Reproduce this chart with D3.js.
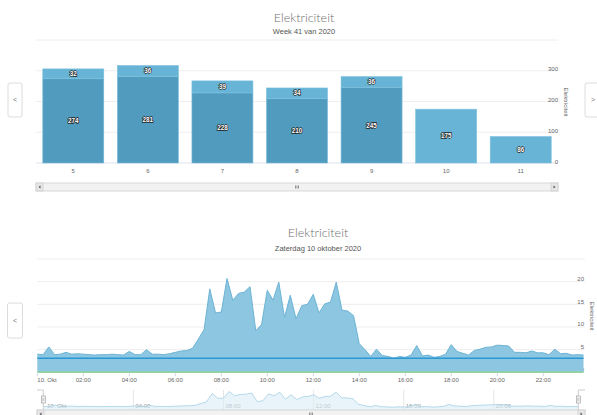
<!DOCTYPE html>
<html>
<head>
<meta charset="utf-8">
<script src="https://cdn.jsdelivr.net/npm/d3@7"></script>
<style>
  body { margin: 0; background: #fff; }
  svg { display: block; }
  text { font-family: "Liberation Sans", Arial, sans-serif; }
  .title { font-family: Lato, "Open Sans", sans-serif; font-weight: 300; fill: #707070; }
</style>
</head>
<body>
<svg id="chart" width="597" height="415"></svg>
<script>
// week chart: days of week 41
var weekDays = ['5', '6', '7', '8', '9', '10', '11'];
var weekLow = [274, 281, 228, 210, 245, 0, 0];
var weekHigh = [32, 36, 39, 34, 36, 175, 86];
var weekTicks = [0, 100, 200, 300, 400];

// day chart: quarter-hour usage on 10 oktober 2020
var dayStart = new Date(2020, 9, 10, 0, 0);
var dayStepMin = 15;
var dayUsage = [
  4.0, 3.9, 5.6, 3.9, 4.0, 4.4, 4.0, 4.1, 4.0, 3.9, 3.8, 3.9,
  3.9, 4.0, 3.9, 3.8, 4.6, 3.9, 3.9, 5.0, 4.0, 4.0, 3.9, 4.1,
  4.4, 4.7, 4.8, 5.3, 7.3, 9.4, 18.4, 13.1, 13.3, 20.7, 15.9, 17.4,
  17.7, 18.9, 9.2, 10.5, 18.1, 15.9, 19.9, 12.1, 17.0, 11.8, 14.7, 15.0,
  17.2, 13.1, 15.1, 15.5, 19.9, 13.7, 13.5, 12.5, 6.3, 5.0, 3.5, 5.1,
  3.7, 3.5, 3.1, 3.5, 3.3, 3.8, 5.9, 3.6, 3.8, 3.3, 3.5, 4.0,
  6.1, 4.6, 4.2, 3.8, 4.8, 5.1, 5.5, 5.6, 6.0, 5.9, 5.8, 4.4,
  4.4, 4.3, 4.7, 4.3, 4.3, 3.9, 5.1, 4.1, 4.2, 3.8, 3.9, 3.8
];
var dayBase = 3.1;      // blue line
var dayReturn = 0;      // green line
var dayTicks = [0, 5, 10, 15, 20, 25];
var dayHourTicks = [0, 2, 4, 6, 8, 10, 12, 14, 16, 18, 20, 22];
var navHourTicks = [0, 4, 8, 12, 16, 20];

var svg = d3.select('#chart');
var darkBlue = '#519cbe', lightBlue = '#67b4d6';

function navButton(x, y, w, h, sign) {
    svg.append('rect').attr('x', x).attr('y', y).attr('width', w).attr('height', h)
        .attr('rx', 2).attr('fill', '#fff').attr('stroke', '#dcdcdc');
    svg.append('text').attr('x', x + w / 2).attr('y', y + h / 2 + 2)
        .attr('text-anchor', 'middle').attr('font-size', 7).attr('fill', '#777').text(sign);
}

function scrollbar(x0, x1, y, h) {
    svg.append('rect').attr('x', x0).attr('y', y).attr('width', x1 - x0).attr('height', h)
        .attr('fill', '#f2f2f2').attr('stroke', '#cfcfcf').attr('stroke-width', 0.8);
    [x0, x1 - 7].forEach(function (bx, i) {
        svg.append('rect').attr('x', bx).attr('y', y).attr('width', 7).attr('height', h)
            .attr('fill', '#e6e6e6').attr('stroke', '#cfcfcf').attr('stroke-width', 0.8);
        var cx = bx + 3.5, cy = y + h / 2;
        var d = i ? 'M' + (cx - 1) + ',' + (cy - 1.5) + 'L' + (cx + 1) + ',' + cy + 'L' + (cx - 1) + ',' + (cy + 1.5) + 'Z'
                  : 'M' + (cx + 1) + ',' + (cy - 1.5) + 'L' + (cx - 1) + ',' + cy + 'L' + (cx + 1) + ',' + (cy + 1.5) + 'Z';
        svg.append('path').attr('d', d).attr('fill', '#555');
    });
    var mid = (x0 + x1) / 2;
    [-1.5, 0, 1.5].forEach(function (o) {
        svg.append('line').attr('x1', mid + o).attr('x2', mid + o).attr('y1', y + h / 2 - 1.5).attr('y2', y + h / 2 + 1.5)
            .attr('stroke', '#555').attr('stroke-width', 0.6);
    });
}

function titles(cx, y1, y2, sub) {
    svg.append('text').attr('class', 'title').attr('x', cx).attr('y', y1)
        .attr('text-anchor', 'middle').attr('font-size', 12.5).text('Elektriciteit');
    svg.append('text').attr('x', cx).attr('y', y2).attr('text-anchor', 'middle')
        .attr('font-size', 7.5).attr('fill', '#555').text(sub);
}

/* ---------- week chart ---------- */
(function () {
    var left = 36, right = 558, top = 40, bottom = 163;
    titles(304, 22, 34, 'Week 41 van 2020');
    var x = d3.scaleBand().domain(weekDays).range([left, right]);
    var y = d3.scaleLinear().domain([0, 400]).range([bottom, top]);
    var g = svg.append('g');
    g.selectAll('line.grid').data(weekTicks).enter().append('line')
        .attr('x1', left).attr('x2', right)
        .attr('y1', function (d) { return y(d); }).attr('y2', function (d) { return y(d); })
        .attr('stroke', function (d) { return d === 0 ? '#dde3ee' : '#eeeeee'; }).attr('stroke-width', 1);
    g.selectAll('text.yl').data(weekTicks.slice(0, 4)).enter().append('text')
        .attr('x', right).attr('y', function (d) { return y(d) + 0.5; })
        .attr('text-anchor', 'end').attr('font-size', 6).attr('fill', '#666').text(function (d) { return d; });
    svg.append('text').attr('transform', 'translate(564,102) rotate(90)')
        .attr('text-anchor', 'middle').attr('font-size', 6).attr('fill', '#666').text('Elektriciteit');

    var bw = 61;
    weekDays.forEach(function (day, i) {
        var cx = x(day) + x.bandwidth() / 2;
        var lo = weekLow[i], hi = weekHigh[i];
        if (lo > 0) {
            g.append('rect').attr('x', cx - bw / 2).attr('width', bw)
                .attr('y', y(lo)).attr('height', y(0) - y(lo))
                .attr('fill', darkBlue).attr('stroke', '#78bcdb').attr('stroke-width', 0.6);
        }
        g.append('rect').attr('x', cx - bw / 2).attr('width', bw)
            .attr('y', y(lo + hi)).attr('height', y(lo) - y(lo + hi))
            .attr('fill', lightBlue).attr('stroke', '#7cc0de').attr('stroke-width', 0.6);
        var labs = [];
        if (lo > 0) labs.push([lo, (y(0) + y(lo)) / 2]);
        labs.push([hi, (y(lo) + y(lo + hi)) / 2]);
        labs.forEach(function (l) {
            g.append('text').attr('x', cx).attr('y', l[1] + 2.2).attr('text-anchor', 'middle')
                .attr('font-size', 6.3).attr('font-weight', 'bold').attr('fill', '#fff')
                .attr('stroke', '#222').attr('stroke-width', 1.3).attr('paint-order', 'stroke')
                .text(l[0]);
        });
        g.append('text').attr('x', cx).attr('y', 173).attr('text-anchor', 'middle')
            .attr('font-size', 6).attr('fill', '#666').text(day);
    });
    scrollbar(36, 558, 183, 8);
    navButton(8, 83, 14, 34, '<');
    navButton(585, 83, 16, 34, '>');
})();

/* ---------- day chart ---------- */
(function () {
    var left = 37.3, right = 583.5, top = 259, bottom = 372.3;
    titles(318, 237, 251, 'Zaterdag 10 oktober 2020');
    var times = dayUsage.map(function (v, i) { return d3.timeMinute.offset(dayStart, i * dayStepMin); });
    var tEnd = times[times.length - 1];
    var x = d3.scaleTime().domain([dayStart, tEnd]).range([left, right]);
    var y = d3.scaleLinear().domain([0, 25]).range([bottom, top]);
    var g = svg.append('g');
    g.selectAll('line.grid').data(dayTicks.slice(1)).enter().append('line')
        .attr('x1', left).attr('x2', 585)
        .attr('y1', function (d) { return y(d); }).attr('y2', function (d) { return y(d); })
        .attr('stroke', '#eeeeee');
    g.selectAll('text.yl').data(dayTicks.slice(0, 5)).enter().append('text')
        .attr('x', 584).attr('y', function (d) { return y(d) - 0.5; })
        .attr('text-anchor', 'end').attr('font-size', 6).attr('fill', '#666').text(function (d) { return d; });
    svg.append('text').attr('transform', 'translate(590,316) rotate(90)')
        .attr('text-anchor', 'middle').attr('font-size', 6).attr('fill', '#666').text('Elektriciteit');

    var area = d3.area().x(function (d, i) { return x(times[i]); })
        .y0(y(0)).y1(function (d) { return y(d); });
    var line = d3.line().x(function (d, i) { return x(times[i]); }).y(function (d) { return y(d); });
    g.append('path').datum(dayUsage).attr('d', area).attr('fill', '#8cc6e0');
    g.append('path').datum(dayUsage).attr('d', line).attr('fill', 'none')
        .attr('stroke', '#6cb4d6').attr('stroke-width', 1);
    g.append('line').attr('x1', left).attr('x2', right).attr('y1', y(dayBase)).attr('y2', y(dayBase))
        .attr('stroke', '#2a98d4').attr('stroke-width', 1.5);
    g.append('line').attr('x1', left).attr('x2', right).attr('y1', y(dayReturn)).attr('y2', y(dayReturn))
        .attr('stroke', '#94d494').attr('stroke-width', 1.5);

    dayHourTicks.forEach(function (h) {
        var tx = x(d3.timeHour.offset(dayStart, h));
        g.append('line').attr('x1', tx).attr('x2', tx).attr('y1', bottom + 1).attr('y2', bottom + 4)
            .attr('stroke', '#ccd6eb');
        g.append('text').attr('x', h === 0 ? left : tx).attr('y', 382)
            .attr('text-anchor', h === 0 ? 'start' : 'middle')
            .attr('font-size', 6).attr('fill', '#666')
            .text(h === 0 ? '10. Okt' : d3.timeFormat('%H:%M')(d3.timeHour.offset(dayStart, h)));
    });

    // navigator
    var nTop = 390, nBottom = 410, nLeft = 43.3, nRight = 578.3;
    var nx = d3.scaleTime().domain([dayStart, tEnd]).range([nLeft, nRight]);
    var ny = d3.scaleLinear().domain([0, d3.max(dayUsage)]).range([nBottom, nTop + 1.5]);
    navHourTicks.forEach(function (h) {
        var tx = nx(d3.timeHour.offset(dayStart, h));
        if (h > 0) {
            svg.append('line').attr('x1', tx).attr('x2', tx).attr('y1', nTop).attr('y2', nBottom)
                .attr('stroke', '#e6e6e6');
        }
        svg.append('text').attr('x', h === 0 ? 47 : tx + 2).attr('y', 408)
            .attr('font-size', 6).attr('fill', '#999')
            .text(h === 0 ? '10. Okt' : d3.timeFormat('%H:%M')(d3.timeHour.offset(dayStart, h)));
    });
    var narea = d3.area().x(function (d, i) { return nx(times[i]); })
        .y0(nBottom).y1(function (d) { return ny(d); });
    var nline = d3.line().x(function (d, i) { return nx(times[i]); }).y(function (d) { return ny(d); });
    svg.append('path').datum(dayUsage).attr('d', narea).attr('fill', '#d9ecf6').attr('fill-opacity', 0.6);
    svg.append('path').datum(dayUsage).attr('d', nline).attr('fill', 'none')
        .attr('stroke', '#a6d0e5').attr('stroke-width', 0.8);
    svg.append('path').attr('d', 'M37,' + nTop + 'L' + nLeft + ',' + nTop + 'L' + nLeft + ',' + nBottom)
        .attr('fill', 'none').attr('stroke', '#cccccc');
    svg.append('path').attr('d', 'M' + nRight + ',' + nBottom + 'L' + nRight + ',' + nTop + 'L585,' + nTop)
        .attr('fill', 'none').attr('stroke', '#cccccc');
    [nLeft, nRight].forEach(function (hx) {
        svg.append('rect').attr('x', hx - 2).attr('y', 396).attr('width', 4).attr('height', 7)
            .attr('fill', '#f2f2f2').attr('stroke', '#999').attr('stroke-width', 0.6);
        svg.append('line').attr('x1', hx - 0.5).attr('x2', hx - 0.5).attr('y1', 398).attr('y2', 401)
            .attr('stroke', '#999').attr('stroke-width', 0.4);
        svg.append('line').attr('x1', hx + 0.5).attr('x2', hx + 0.5).attr('y1', 398).attr('y2', 401)
            .attr('stroke', '#999').attr('stroke-width', 0.4);
    });
    scrollbar(37, 585, 410, 8);
    navButton(7.5, 303, 15, 35, '<');
})();
</script>
</body>
</html>
